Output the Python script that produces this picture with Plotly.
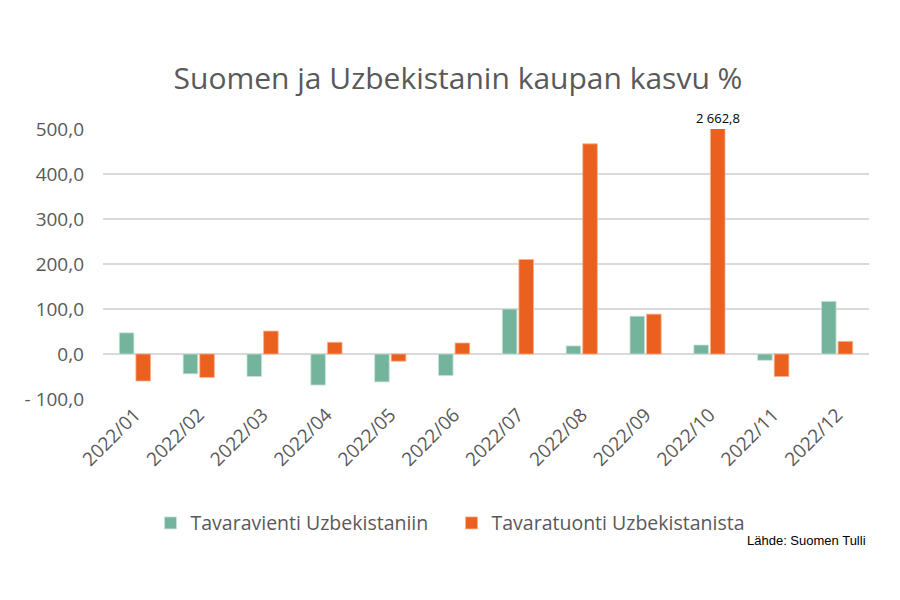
import plotly.graph_objects as go

categories = ["2022/01", "2022/02", "2022/03", "2022/04", "2022/05", "2022/06",
              "2022/07", "2022/08", "2022/09", "2022/10", "2022/11", "2022/12"]
vienti = [47, -44, -50, -69, -62, -48, 100, 18, 84, 20, -14, 117]
tuonti = [-60, -52, 51, 26, -16, 24.5, 210, 467, 88.5, 2662.8, -50, 28]
series_names = ["Tavaravienti Uzbekistaniin", "Tavaratuonti Uzbekistanista"]
tick_vals = [-100, 0, 100, 200, 300, 400, 500]
tick_text = ["- 100,0", "0,0", "100,0", "200,0", "300,0", "400,0", "500,0"]
label_text = "2 662,8"
title_text = "Suomen ja Uzbekistanin kaupan kasvu %"
source_text = "Lähde: Suomen Tulli"

GREEN = "#74b49d"
ORANGE = "#ea601e"
FONT = "Open Sans, sans-serif"

fig = go.Figure()
fig.add_trace(go.Bar(x=categories, y=vienti, name=series_names[0],
                     marker=dict(color=GREEN, line=dict(color="#c9e3d9", width=0.8))))
fig.add_trace(go.Bar(x=categories, y=tuonti, name=series_names[1],
                     marker=dict(color=ORANGE, line=dict(color="#f7b08e", width=0.8))))

fig.add_annotation(x=categories[9], y=500, xref="x", yref="y", text=label_text,
                   showarrow=False, yanchor="bottom", xshift=9, yshift=0,
                   font=dict(family=FONT, size=13, color="#000000"))
fig.add_annotation(x=0.999, y=-0.525, xref="paper", yref="paper", text=source_text,
                   showarrow=False, xanchor="right", yanchor="middle",
                   font=dict(family="Liberation Sans Narrow, Liberation Sans, sans-serif", size=13, color="#000000"))

fig.update_layout(
    width=900, height=600,
    paper_bgcolor="white", plot_bgcolor="white",
    margin=dict(l=95, r=39, t=121, b=209),
    title=dict(text=title_text, x=0.5, xanchor="center", xref="container",
               y=1 - 70 / 600, yanchor="middle", yref="container",
               font=dict(family=FONT, size=30, color="#595959")),
    barmode="group", bargap=0.48, bargroupgap=0.12,
    font=dict(family=FONT, color="#595959"),
    showlegend=True,
    legend=dict(orientation="h", x=0.455, xanchor="center", y=-0.46, yanchor="middle",
                font=dict(family=FONT, size=19.5, color="#595959"),
                itemwidth=30, tracegroupgap=0, entrywidth=256),
    xaxis=dict(type="category", tickangle=-45, showgrid=False, showline=False,
               tickfont=dict(family=FONT, size=19, color="#595959"), ticks=""),
    yaxis=dict(range=[-100, 500], tickvals=tick_vals, ticktext=tick_text,
               showgrid=True, gridcolor="#d9d9d9", gridwidth=1.5,
               zeroline=True, zerolinecolor="#d9d9d9", zerolinewidth=1.5,
               tickfont=dict(family=FONT, size=19, color="#595959"), ticks="",
               ticklabelstandoff=18),
)

fig.write_html("out.html")
